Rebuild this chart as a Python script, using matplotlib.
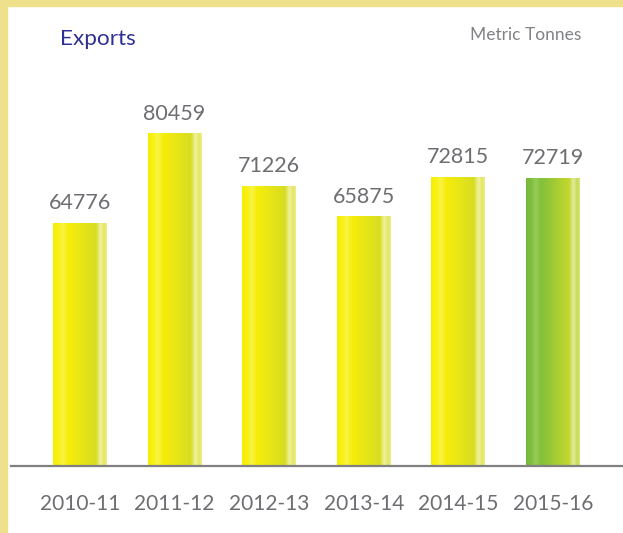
import numpy as np
import matplotlib
matplotlib.use("Agg")
import matplotlib.pyplot as plt
from matplotlib.patches import Rectangle
from matplotlib.colors import LinearSegmentedColormap

# ---- data ----
categories = ["2010-11", "2011-12", "2012-13", "2013-14", "2014-15", "2015-16"]
exports = [64776, 80459, 71226, 65875, 72815, 72719]
title = "Exports"
unit_label = "Metric Tonnes"

W, H = 623, 533
fig = plt.figure(figsize=(W / 100, H / 100), dpi=100)
fig.patch.set_facecolor("white")

# yellow frame (top and left)
border = "#EFE08C"
fig.add_artist(Rectangle((0, 0), 7 / W, 1, transform=fig.transFigure, color=border, zorder=0))
fig.add_artist(Rectangle((0, 1 - 6 / H), 1, 6 / H, transform=fig.transFigure, color=border, zorder=0))

# axes geometry
base_px = 466
y0, y1 = 22000, 90000
px_per_unit = 0.005688
ax_h_px = (y1 - y0) * px_per_unit
ax_left_px = 11
ax = fig.add_axes([ax_left_px / W, (H - base_px) / H, (W - ax_left_px) / W, ax_h_px / H])
ax.set_facecolor("none")

x = np.arange(len(categories))
spacing = 94.6
xl = -(80 - ax_left_px) / spacing
xr = (W - 80) / spacing
ax.set_xlim(xl, xr)
ax.set_ylim(y0, y1)

bars = ax.bar(x, exports, width=0.57, bottom=0, color="none", zorder=2)

yellow_stops = [(0.0, (246, 238, 0)), (0.10, (248, 241, 20)), (0.18, (249, 244, 70)),
                (0.28, (246, 237, 10)), (0.80, (216, 221, 35)), (0.88, (240, 241, 165)),
                (0.95, (228, 231, 90)), (1.0, (236, 238, 150))]
green_stops = [(0.0, (118, 184, 60)), (0.10, (128, 190, 62)), (0.18, (150, 204, 88)),
               (0.28, (130, 192, 58)), (0.80, (196, 216, 45)), (0.88, (226, 234, 160)),
               (0.95, (200, 220, 80)), (1.0, (215, 228, 130))]

def cmap_from(stops, name):
    return LinearSegmentedColormap.from_list(name, [(p, tuple(c / 255 for c in col)) for p, col in stops])

cm_y = cmap_from(yellow_stops, "yb")
cm_g = cmap_from(green_stops, "gb")
grad = np.linspace(0, 1, 256).reshape(1, -1)

for i, b in enumerate(bars):
    cm = cm_g if i == len(bars) - 1 else cm_y
    bx, bw = b.get_x(), b.get_width()
    top = b.get_height()
    im = ax.imshow(grad, cmap=cm, aspect="auto", extent=(bx, bx + bw, y0, top),
                   interpolation="bilinear", zorder=2)
    im.set_clip_path(b)

ax.set_xlim(xl, xr)
ax.set_ylim(y0, y1)

val_color = "#6D6E71"
for b, v in zip(bars, exports):
    ax.annotate(f"{v}", xy=(b.get_x() + b.get_width() / 2, v), xytext=(0, 10),
                textcoords="offset points", ha="center", va="baseline",
                fontsize=15.5, color=val_color, family="Lato", zorder=3)

for s in ["top", "right", "left"]:
    ax.spines[s].set_visible(False)
ax.spines["bottom"].set_color("#808080")
ax.spines["bottom"].set_linewidth(1.6)
ax.spines["bottom"].set_zorder(4)
ax.set_yticks([])
ax.set_xticks(x)
ax.set_xticklabels(categories, fontsize=15, color=val_color, family="Lato")
ax.tick_params(axis="x", length=0, pad=20.5)

fig.text(60 / W, 1 - 45 / H, title, fontsize=16.2, color="#2E3192", family="Lato",
         ha="left", va="baseline")
fig.text(581 / W, 1 - 40 / H, unit_label, fontsize=12.5, color="#808285", family="Lato",
         ha="right", va="baseline")

fig.savefig("out.png", dpi=100, facecolor="white")
